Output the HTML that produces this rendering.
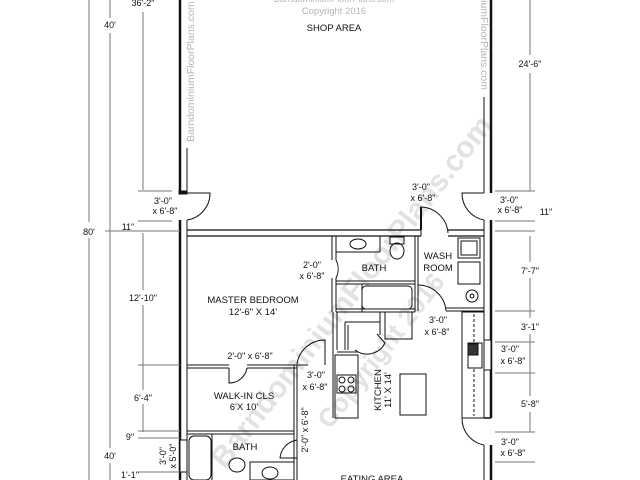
<!DOCTYPE html>
<html><head><style>
html,body{margin:0;padding:0;background:#fff}
svg{display:block}
text{font-family:"Liberation Sans",sans-serif;fill:#111}
.d{font-size:9px}
.l{font-size:9.5px}
text.w{fill:#e2e2e2}
text.wv{fill:#b5b5b5}
</style></head><body>
<svg width="640" height="480" viewBox="0 0 640 480" xmlns="http://www.w3.org/2000/svg">
<text class="w" x="0" y="0" transform="translate(225,470) rotate(-52)" font-size="30" font-weight="bold">BarndominiumFloorPlans.com</text>
<text class="w" x="0" y="0" transform="translate(330,430) rotate(-52)" font-size="26" font-weight="bold">Copyright 2016</text>
<text class="wv" x="0" y="0" transform="translate(194,142) rotate(-90)" font-size="10.5">BarndominiumFloorPlans.com</text>
<text class="wv" x="0" y="0" transform="translate(481,90) rotate(90)" font-size="10.5" text-anchor="end">BarndominiumFloorPlans.com</text>
<text class="wv" x="334" y="2" text-anchor="middle" font-size="9">BarndominiumFloorPlans.com</text>
<text class="wv" x="334" y="14" text-anchor="middle" font-size="9.5">Copyright 2016</text>
<text x="334" y="31" text-anchor="middle" class="l">SHOP AREA</text>

<g stroke="#111" fill="none">
<line x1="180" y1="0" x2="180" y2="193" stroke-width="2.5"/>
<line x1="187" y1="148" x2="187" y2="193" stroke-width="1"/>
<rect x="179" y="191" width="8" height="3" fill="#111"/>
<path d="M187 193 H210 A27 27 0 0 1 187 220" stroke-width="1"/>
<line x1="180" y1="220" x2="180" y2="480" stroke-width="2.5"/>
<line x1="187" y1="220" x2="187" y2="480" stroke-width="1"/>
<line x1="491" y1="0" x2="491" y2="193" stroke-width="2.5"/>
<line x1="484" y1="97" x2="484" y2="193" stroke-width="1"/>
<path d="M484 193 H462 A27 27 0 0 0 484 220" stroke-width="1"/>
<line x1="491" y1="220" x2="491" y2="418" stroke-width="2.5"/>
<line x1="484" y1="220" x2="484" y2="418" stroke-width="1"/>
<line x1="484" y1="418" x2="491" y2="418" stroke-width="1.5"/>
<path d="M484 418 H462 A27 27 0 0 0 484 445" stroke-width="1"/>
<line x1="491" y1="445" x2="491" y2="480" stroke-width="2.5"/>
<line x1="484" y1="445" x2="484" y2="480" stroke-width="1"/>
<line x1="187" y1="230" x2="421" y2="230" stroke-width="1.2"/>
<line x1="187" y1="236" x2="421" y2="236" stroke-width="1.2"/>
<line x1="448" y1="230" x2="484" y2="230" stroke-width="1.2"/>
<line x1="448" y1="236" x2="484" y2="236" stroke-width="1.2"/>
<path d="M421 236 V207 A28 28 0 0 1 448 233" stroke-width="1"/>
<line x1="421" y1="207" x2="421" y2="230" stroke-width="2"/>
<line x1="332" y1="236" x2="332" y2="260" stroke-width="1"/>
<line x1="336" y1="236" x2="336" y2="260" stroke-width="1"/>
<path d="M336 260 A20 20 0 0 1 336 278"/>
<line x1="332" y1="278" x2="332" y2="312" stroke-width="1"/>
<line x1="336" y1="278" x2="336" y2="312" stroke-width="1"/>
<line x1="336" y1="252" x2="380" y2="252"/>
<line x1="380" y1="236" x2="380" y2="252"/>
<ellipse cx="358" cy="244" rx="8" ry="5"/>
<rect x="390" y="237" width="14" height="7"/>
<ellipse cx="397" cy="251" rx="7" ry="8"/>
<line x1="336" y1="281" x2="415" y2="281"/>
<line x1="336" y1="284" x2="415" y2="284"/>
<rect x="362" y="286" width="50" height="23" rx="4"/>
<line x1="362" y1="284" x2="362" y2="312"/>
<line x1="336" y1="309" x2="415" y2="309"/>
<line x1="336" y1="312" x2="415" y2="312"/>
<line x1="415" y1="236" x2="415" y2="312" stroke-width="1"/>
<line x1="418" y1="236" x2="418" y2="285" stroke-width="1"/>
<path d="M418 285 A28 28 0 0 1 446 311"/>
<line x1="418" y1="285" x2="418" y2="311"/>
<line x1="446" y1="311" x2="484" y2="311"/>
<line x1="446" y1="308" x2="484" y2="308"/>
<rect x="458" y="238" width="22" height="20"/>
<rect x="461" y="241" width="16" height="14"/>
<rect x="458" y="262" width="22" height="22"/>
<circle cx="472" cy="296" r="6"/><circle cx="472" cy="296" r="2"/>
<line x1="333" y1="312" x2="333" y2="418" stroke-width="1"/>
<line x1="337" y1="312" x2="337" y2="350"/>
<line x1="345" y1="322" x2="380" y2="322"/>
<line x1="345" y1="322" x2="345" y2="350"/>
<line x1="348" y1="325" x2="348" y2="350"/>
<line x1="380" y1="312" x2="380" y2="335"/>
<path d="M355 350 A20 20 0 0 0 385 343 L377 334"/>
<rect x="385" y="312" width="27" height="27"/>
<line x1="337" y1="352" x2="358" y2="352"/>
<rect x="335" y="355" width="23" height="63"/>
<rect x="337" y="375" width="19" height="18"/>
<circle cx="342" cy="380" r="3"/><circle cx="351" cy="380" r="3"/><circle cx="342" cy="389" r="3"/><circle cx="351" cy="389" r="3"/>
<rect x="400" y="374" width="26" height="41"/>
<rect x="462" y="312" width="22" height="106"/>
<line x1="474" y1="314" x2="474" y2="416" stroke-dasharray="3,2"/>
<rect x="468" y="343" width="14" height="25" fill="#fff"/>
<rect x="468" y="344" width="10" height="11" fill="#333"/>
<rect x="484" y="340" width="7" height="30" fill="#fff"/>
<line x1="187" y1="365" x2="229" y2="365"/>
<line x1="187" y1="368" x2="229" y2="368"/>
<line x1="247" y1="365" x2="297" y2="365"/>
<line x1="247" y1="368" x2="297" y2="368"/>
<path d="M229 368 V383 A18 18 0 0 0 247 368"/>
<line x1="294" y1="365" x2="294" y2="480"/>
<line x1="297" y1="365" x2="297" y2="480"/>
<line x1="297" y1="365" x2="308" y2="365"/>
<path d="M297 364 A28 28 0 0 1 325 340 V365"/>
<line x1="187" y1="431" x2="294" y2="431"/>
<line x1="187" y1="434" x2="294" y2="434"/>
<rect x="189" y="436" width="22" height="44" rx="5"/>
<line x1="212" y1="434" x2="212" y2="480"/>
<ellipse cx="237" cy="465" rx="8" ry="7"/>
<rect x="250" y="462" width="44" height="18"/>
<ellipse cx="270" cy="473" rx="8" ry="6"/>
<path d="M297 440 A20 20 0 0 0 280 458 H297"/>
<rect x="180" y="440" width="7" height="32" fill="#fff"/>
<g stroke="#777" stroke-width="1">
<line x1="89" y1="0" x2="89" y2="222"/><line x1="89" y1="238" x2="89" y2="480"/>
<line x1="110" y1="0" x2="110" y2="18"/><line x1="110" y1="33" x2="110" y2="230"/><line x1="110" y1="230" x2="110" y2="448"/><line x1="110" y1="463" x2="110" y2="480"/>
<line x1="143" y1="12" x2="143" y2="190"/><line x1="143" y1="233" x2="143" y2="290"/><line x1="143" y1="305" x2="143" y2="390"/><line x1="143" y1="404" x2="143" y2="432"/>
<line x1="138" y1="191" x2="172" y2="191"/><line x1="138" y1="221" x2="172" y2="221"/><line x1="105" y1="231" x2="180" y2="231"/>
<line x1="138" y1="365" x2="180" y2="365"/><line x1="138" y1="431" x2="180" y2="431"/><line x1="138" y1="438" x2="180" y2="438"/><line x1="138" y1="472" x2="180" y2="472"/>
<line x1="530" y1="0" x2="530" y2="55"/><line x1="530" y1="73" x2="530" y2="191"/>
<line x1="530" y1="236" x2="530" y2="262"/><line x1="530" y1="278" x2="530" y2="318"/><line x1="530" y1="334" x2="530" y2="396"/><line x1="530" y1="412" x2="530" y2="432"/>
<line x1="495" y1="191" x2="535" y2="191"/><line x1="495" y1="221" x2="535" y2="221"/><line x1="495" y1="231" x2="535" y2="231"/>
<line x1="495" y1="311" x2="535" y2="311"/><line x1="495" y1="342" x2="535" y2="342"/><line x1="495" y1="373" x2="535" y2="373"/><line x1="495" y1="432" x2="535" y2="432"/><line x1="495" y1="462" x2="535" y2="462"/>
</g>
</g>
<g class="d" text-anchor="middle">
<text x="110" y="28">40'</text><text x="143" y="6">36'-2"</text><text x="89" y="235">80'</text>
<text x="163" y="204">3'-0"</text><text x="165" y="214">x 6'-8"</text>
<text x="128" y="230">11"</text><text x="143" y="301">12'-10"</text><text x="143" y="401">6'-4"</text>
<text x="130" y="440">9"</text><text x="110" y="459">40'</text><text x="130" y="478">1'-1"</text>
<text x="0" y="0" transform="translate(166,456) rotate(-90)">3'-0"</text>
<text x="0" y="0" transform="translate(176,456) rotate(-90)">x 5'-0"</text>
<text x="530" y="67">24'-6"</text>
<text x="509" y="203">3'-0"</text><text x="510" y="213">x 6'-8"</text><text x="546" y="215">11"</text>
<text x="530" y="274">7'-7"</text><text x="530" y="330">3'-1"</text>
<text x="510" y="352">3'-0"</text><text x="513" y="364">x 6'-8"</text>
<text x="530" y="407">5'-8"</text>
<text x="510" y="445">3'-0"</text><text x="513" y="456">x 6'-8"</text>
<text x="421" y="190">3'-0"</text><text x="423" y="201">x 6'-8"</text>
<text x="312" y="268">2'-0"</text><text x="312" y="279">x 6'-8"</text>
<text x="438" y="323">3'-0"</text><text x="437" y="335">x 6'-8"</text>
<text x="250" y="359">2'-0" x 6'-8"</text>
<text x="316" y="378">3'-0"</text><text x="315" y="390">x 6'-8"</text>
<text x="0" y="0" transform="translate(308,430) rotate(-90)">2'-0" x 6'-8"</text>
</g>
<g class="l" text-anchor="middle">
<text x="253" y="303">MASTER BEDROOM</text><text x="253" y="315">12'-6" X 14'</text>
<text x="374" y="271">BATH</text><text x="438" y="259">WASH</text><text x="438" y="271">ROOM</text>
<text x="244" y="399">WALK-IN CLS</text><text x="244" y="410">6'X 10'</text>
<text x="245" y="450">BATH</text>
<text x="0" y="0" transform="translate(381,390) rotate(-90)">KITCHEN</text>
<text x="0" y="0" transform="translate(391,390) rotate(-90)">11' X 14'</text>
<text x="372" y="482">EATING AREA</text>
</g>
</svg>
</body></html>
